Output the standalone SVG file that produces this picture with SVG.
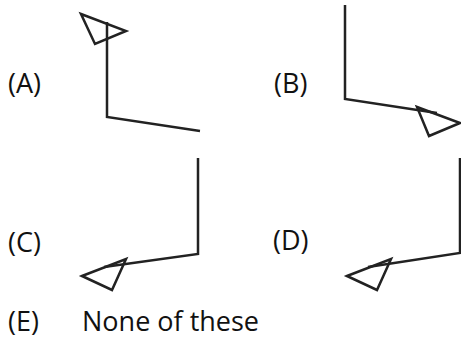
<svg xmlns="http://www.w3.org/2000/svg" width="461" height="339" viewBox="0 0 461 339">
<style>
.t{font-family:"Open Sans","Liberation Sans",sans-serif;font-size:27px;fill:#111}
.l{fill:none;stroke:#222;stroke-width:2.5;stroke-linejoin:miter}
</style>
<rect width="461" height="339" fill="#fff"/>
<g id="optA">
<text class="t" x="8" y="93">(A)</text>
<polyline class="l" points="107,22 107,117 200,131"/>
<polygon class="l" points="81,14 126,31 95,44"/>
</g>
<g id="optB">
<text class="t" x="274" y="93">(B)</text>
<polyline class="l" points="345,5 345,99 437,113"/>
<polygon class="l" points="417,107 460,123 429,136"/>
</g>
<g id="optC">
<text class="t" x="8" y="252">(C)</text>
<polyline class="l" points="198,158 198,254 104,267"/>
<polygon class="l" points="82,276 126,259 112,290"/>
</g>
<g id="optD">
<text class="t" x="273" y="250">(D)</text>
<polyline class="l" points="460,158 460,253 368,267"/>
<polygon class="l" points="347,276 391,259 377,290"/>
</g>
<g id="optE">
<text class="t" x="8" y="331">(E)</text>
<text class="t" x="82" y="331">None of these</text>
</g>
</svg>
